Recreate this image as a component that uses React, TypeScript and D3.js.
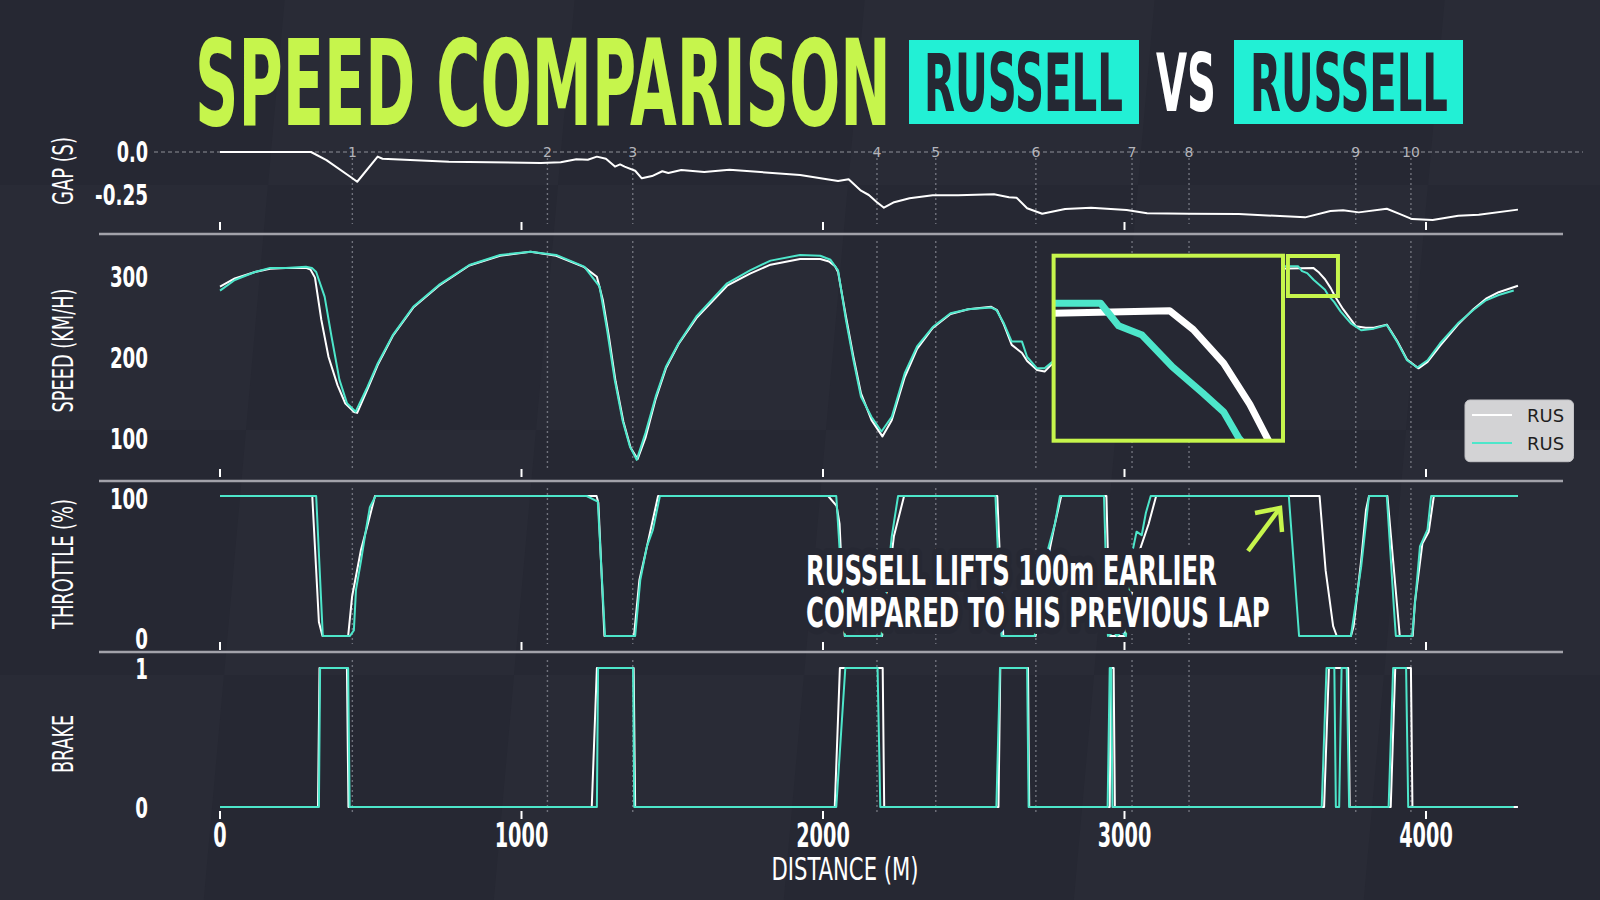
import React, { useLayoutEffect, useRef, useState } from 'react';
import * as d3 from 'd3';

// ---- data ----
const distTicks = [0, 1000, 2000, 3000, 4000];
const cornerLabels = ['1', '2', '3', '4', '5', '6', '7', '8', '9', '10'];
const cornerDist = [439, 1086, 1369, 2179, 2374, 2706, 3025, 3214, 3767, 3950];
const gapTicks = [0, -0.25];
const gapTickLabels = ['0.0', '-0.25'];
const speedTicks = [100, 200, 300];
const throttleTicks = [0, 100];
const brakeTicks = [0, 1];
const legendLabels = ['RUS', 'RUS'];

const gapTrace: [number, number][] = [
  [0, 0], [302, 0], [353, -0.047], [438, -0.151], [455, -0.173], [523, -0.027], [539, -0.039],
  [759, -0.056], [1064, -0.064], [1130, -0.06], [1182, -0.042], [1220, -0.045], [1250, -0.027],
  [1280, -0.039], [1310, -0.085], [1327, -0.072], [1342, -0.085], [1377, -0.109], [1399, -0.153],
  [1433, -0.14], [1467, -0.112], [1487, -0.122], [1530, -0.105], [1606, -0.116], [1690, -0.103],
  [1924, -0.134], [2050, -0.169], [2085, -0.159], [2126, -0.225], [2152, -0.25], [2177, -0.289],
  [2202, -0.324], [2236, -0.292], [2287, -0.269], [2364, -0.252], [2448, -0.252], [2567, -0.246],
  [2617, -0.263], [2642, -0.266], [2677, -0.327], [2727, -0.359], [2803, -0.331], [2889, -0.324],
  [3007, -0.337], [3075, -0.356], [3212, -0.359], [3379, -0.36], [3599, -0.38], [3683, -0.343],
  [3725, -0.339], [3777, -0.351], [3870, -0.33], [3912, -0.36], [3954, -0.39], [4022, -0.395],
  [4107, -0.37], [4175, -0.365], [4305, -0.335],
];

// previous lap (white)
const speedPrev: [number, number][] = [
  [0, 287], [49, 297], [116, 305], [166, 309], [218, 310], [285, 310], [300, 308], [315, 298],
  [336, 246], [360, 200], [390, 165], [415, 143], [445, 132], [455, 131], [489, 160], [523, 190],
  [573, 226], [641, 261], [726, 288], [827, 313], [929, 325], [1030, 330], [1115, 325], [1208, 311],
  [1250, 299], [1270, 270], [1290, 225], [1312, 170], [1338, 120], [1362, 88], [1385, 74], [1411, 100],
  [1445, 148], [1479, 186], [1521, 216], [1580, 248], [1682, 288], [1758, 303], [1826, 314], [1924, 321],
  [1991, 321], [2020, 318], [2040, 312], [2050, 305], [2076, 250], [2101, 200], [2126, 155], [2161, 122],
  [2197, 102], [2228, 122], [2271, 175], [2312, 210], [2364, 236], [2423, 253], [2482, 259], [2558, 262],
  [2577, 258], [2600, 240], [2626, 215], [2660, 205], [2677, 195], [2710, 184], [2735, 182], [2761, 192],
  [2800, 220], [2860, 250], [2920, 262], [2950, 240], [2975, 222], [3010, 225], [3050, 245], [3120, 270],
  [3200, 285], [3300, 298], [3400, 305], [3500, 309], [3626, 310], [3643, 305], [3665, 296], [3684, 285],
  [3698, 275], [3725, 259], [3767, 238], [3800, 236], [3827, 236], [3870, 240], [3904, 220], [3937, 197],
  [3975, 186], [4005, 194], [4047, 214], [4106, 240], [4157, 259], [4199, 272], [4241, 280], [4305, 288],
];

// current lap (turquoise)
const speedCurr: [number, number][] = [
  [0, 282], [49, 295], [116, 305], [166, 310], [218, 310], [285, 311.5], [305, 310], [319, 305],
  [347, 274.5], [370, 225], [396, 172], [421, 143], [450, 132.5], [489, 163], [523, 192], [573, 227],
  [641, 262], [726, 289], [827, 313.6], [929, 326], [1030, 330], [1115, 326], [1208, 311.5], [1259, 287],
  [1284, 233], [1309, 172], [1335, 122], [1360, 89], [1382, 73], [1411, 106], [1445, 151], [1479, 188],
  [1521, 217], [1580, 250], [1682, 291], [1758, 307], [1826, 319], [1924, 326], [1991, 325], [2025, 320],
  [2050, 307], [2076, 246], [2101, 196], [2126, 151], [2161, 126], [2194, 108], [2228, 126], [2271, 180],
  [2312, 213], [2364, 237], [2423, 254], [2482, 259], [2558, 261], [2575, 258], [2600, 241.6], [2626, 219],
  [2660, 219], [2677, 200], [2710, 186], [2735, 186], [2761, 194], [2800, 222], [2860, 252], [2920, 265],
  [2945, 245], [2970, 225], [3005, 226], [3050, 248], [3120, 273], [3200, 289], [3300, 301], [3400, 308],
  [3500, 312], [3576, 312], [3589, 306], [3606, 303.5], [3628, 295], [3650, 288], [3665, 283], [3676, 276],
  [3695, 268], [3717, 256], [3751, 241.6], [3785, 233], [3827, 235], [3870, 239.5], [3904, 219], [3937, 196],
  [3971, 187], [4005, 196], [4047, 217], [4106, 241.6], [4157, 258], [4199, 270], [4241, 276.5], [4291, 282],
];

const throttlePrev: [number, number][] = [
  [0, 100], [306, 100], [328, 10], [340, 0], [425, 0], [438, 28], [467, 61], [488, 78], [514, 100],
  [1249, 100], [1255, 95], [1275, 0], [1373, 0], [1391, 40], [1411, 59], [1453, 100], [2017, 100],
  [2045, 93], [2055, 80], [2072, 0], [2196, 0], [2235, 71], [2269, 100], [2578, 100], [2598, 0],
  [2705, 0], [2753, 63], [2766, 77], [2790, 100], [2940, 100], [2952, 0], [3000, 0], [3050, 61],
  [3080, 80], [3105, 100], [3647, 100], [3667, 47], [3692, 7], [3704, 0], [3751, 0], [3760, 7],
  [3785, 54], [3801, 90], [3811, 100], [3872, 100], [3913, 0], [3956, 0], [3963, 23.6], [3988, 66],
  [4009, 74.5], [4026, 100], [4305, 100],
];

const throttleCurr: [number, number][] = [
  [0, 100], [319, 100], [341, 0], [431, 0], [444, 4], [451, 33], [468, 54], [485, 77], [497, 92],
  [516, 100], [1216, 100], [1253, 96], [1277, 0], [1377, 0], [1394, 40], [1416, 64], [1436, 76],
  [1459, 100], [2044, 100], [2073, 0], [2194, 0], [2228, 71], [2249, 100], [2572, 100], [2592, 0],
  [2702, 0], [2745, 61], [2769, 80], [2786, 100], [2932, 100], [2945, 0], [2965, 3], [2975, 0],
  [2990, 3], [3005, 0], [3027, 61], [3040, 74.5], [3057, 72], [3071, 88], [3087, 100], [3545, 100],
  [3579, 0], [3751, 0], [3785, 49.5], [3811, 100], [3870, 100], [3894, 18.6], [3900, 0], [3954, 0],
  [3980, 64], [4005, 76], [4017, 100], [4305, 100],
];

const brakePrev: [number, number][] = [
  [0, 0], [325, 0], [330, 1], [421, 1], [426, 0], [1233, 0], [1250, 1], [1372, 1], [1377, 0],
  [2039, 0], [2056, 1], [2198, 1], [2203, 0], [2582, 0], [2588, 1], [2680, 1], [2684, 0], [2951, 0],
  [2955, 1], [2964, 1], [2968, 0], [3662, 0], [3678, 1], [3742, 1], [3747, 0], [3883, 0], [3898, 1],
  [3950, 1], [3955, 0], [4305, 0],
];

const brakeCurr: [number, number][] = [
  [0, 0], [328, 0], [332, 1], [425, 1], [430, 0], [1250, 0], [1254, 1], [1370, 1], [1374, 0],
  [2044, 0], [2074, 1], [2181, 1], [2190, 0], [2575, 0], [2587, 1], [2677, 1], [2682, 0], [2944, 0],
  [2951, 1], [2956, 1], [2960, 0], [3654, 0], [3670, 1], [3696, 1], [3701, 0], [3712, 0], [3720, 1],
  [3737, 1], [3745, 0], [3876, 0], [3891, 1], [3934, 1], [3941, 0], [4291, 0],
];

// ---- style ----
const BG = '#262833';
const LIME = '#c6f54c';
const TEAL = '#4de6ca';
const BOX = '#22f0d5';
const COND = "'Liberation Sans Narrow', 'DejaVu Sans Condensed', 'DejaVu Sans', sans-serif";

const x = d3.scaleLinear().domain([0, 4000]).range([220, 1426]);
const yGap = d3.scaleLinear().domain([0, -0.25]).range([152, 195]);
const ySpeed = d3.scaleLinear().domain([100, 300]).range([438, 276]);
const yThr = d3.scaleLinear().domain([0, 100]).range([636, 496]);
const yBrk = d3.scaleLinear().domain([0, 1]).range([807, 668]);

// zoomed inset
const zoomX = [3542, 3708];
const zoomY = [275.3, 324.7];
const xi = d3.scaleLinear().domain(zoomX).range([1053.6, 1283]);
const yi = d3.scaleLinear().domain(zoomY).range([440.7, 255.7]);

// width of a bold condensed label, per char
const labelW = (s: string, digit: number) =>
  s.split('').reduce((a, c) => a + (c === '.' ? digit * 0.47 : c === '-' ? digit * 0.7 : digit), 0);

function path(data: [number, number][], xs: any, ys: any) {
  return d3.line<[number, number]>().x(d => xs(d[0])).y(d => ys(d[1]))(data) || '';
}

// text squeezed horizontally to a given width (condensed look)
function FitText({ x, y, width, rotate, anchor, style, children, ...rest }: any) {
  const ref = useRef<SVGTextElement>(null);
  const [s, setS] = useState(1);
  useLayoutEffect(() => {
    if (!ref.current) return;
    const n = ref.current.getComputedTextLength();
    if (n > 0) setS(width / n);
  }, [width, children]);
  return (
    <text ref={ref} transform={`translate(${x},${y})${rotate ? ` rotate(${rotate})` : ''} scale(${s},1)`}
      textAnchor={anchor} style={style} {...rest}>{children}</text>
  );
}

const panels = [
  { top: 158, bottom: 230 },
  { top: 241, bottom: 477 },
  { top: 488, bottom: 650 },
  { top: 660, bottom: 819 },
];
const separators = [234, 481, 652];

function Background() {
  const cells: JSX.Element[] = [];
  const cw = 290, ch = 245, slant = 22;
  for (let r = 0; r < 5; r++) {
    for (let c = -1; c < 7; c++) {
      if ((r + c) % 2 === 0) continue;
      const x0 = c * cw + r * -slant;
      const y0 = r * ch - 60;
      cells.push(
        <polygon key={`${r}-${c}`}
          points={`${x0},${y0} ${x0 + cw},${y0} ${x0 + cw - slant},${y0 + ch} ${x0 - slant},${y0 + ch}`}
          fill="#2b2d39" opacity={0.55} />
      );
    }
  }
  return <g>
    <rect width={1600} height={900} fill={BG} />
    {cells}
  </g>;
}

export default function App() {
  const yTickFont = { fontFamily: COND, fontWeight: 700, fontSize: 29, fill: '#fff' } as const;
  const titleFont = { fontFamily: COND, fontWeight: 700, fontSize: 80 } as const;
  return (
    <svg width={1600} height={900} style={{ position: 'absolute', left: 0, top: 0 }}>
      <defs>
        <clipPath id="insetClip">
          <rect x={1053.6} y={255.7} width={229.4} height={185} />
        </clipPath>
      </defs>
      <Background />

      {/* title */}
      <FitText x={195} y={125} width={696}
        style={{ fontFamily: COND, fontWeight: 700, fontSize: 119, fill: LIME }}>SPEED COMPARISON</FitText>
      <rect x={909} y={40} width={230} height={84} fill={BOX} />
      <FitText x={924} y={111} width={199} style={{ ...titleFont, fill: '#252833' }}>RUSSELL</FitText>
      <FitText x={1156} y={111} width={60} style={{ ...titleFont, fill: '#fff' }}>VS</FitText>
      <rect x={1234} y={40} width={229} height={84} fill={BOX} />
      <FitText x={1250} y={111} width={198} style={{ ...titleFont, fill: '#252833' }}>RUSSELL</FitText>

      {/* separators */}
      {separators.map(s => <line key={s} x1={99} x2={1563} y1={s} y2={s} stroke="#a2a2aa" strokeWidth={2.5} />)}

      {/* zero line of gap */}
      <line x1={154} x2={1583} y1={yGap(0)} y2={yGap(0)} stroke="#8e8f97" strokeWidth={1.2} strokeDasharray="4 3" />

      {/* corner lines */}
      {cornerDist.map((d, i) => (
        <g key={i}>
          {panels.map((p, j) => (
            <line key={j} x1={x(d)} x2={x(d)} y1={p.top} y2={p.bottom - 6} stroke="#70727c"
              strokeWidth={1.4} strokeDasharray="2 3" />
          ))}
          <text x={x(d)} y={157} textAnchor="middle"
            style={{ fontFamily: 'DejaVu Sans, sans-serif', fontSize: 14, fill: '#b4b5bb' }}>{cornerLabels[i]}</text>
        </g>
      ))}

      {/* x ticks in each panel */}
      {panels.map((p, j) => distTicks.map(t => (
        <line key={`${j}-${t}`} x1={x(t)} x2={x(t)} y1={p.bottom - 8} y2={p.bottom} stroke="#fff" strokeWidth={2} />
      )))}

      {/* y tick labels */}
      {gapTicks.map((t, i) => (
        <FitText key={t} x={148} y={yGap(t) + 10} anchor="end" width={labelW(gapTickLabels[i], 12.7)}
          style={yTickFont}>{gapTickLabels[i]}</FitText>
      ))}
      {speedTicks.map(t => (
        <FitText key={t} x={148} y={ySpeed(t) + 10.5} anchor="end" width={labelW(String(t), 12.7)}
          style={yTickFont}>{t}</FitText>
      ))}
      {throttleTicks.map(t => (
        <FitText key={t} x={148} y={yThr(t) + 13} anchor="end" width={labelW(String(t), 12.7)}
          style={yTickFont}>{t}</FitText>
      ))}
      {brakeTicks.map(t => (
        <FitText key={t} x={148} y={yBrk(t) + 11} anchor="end" width={labelW(String(t), 12.7)}
          style={yTickFont}>{t}</FitText>
      ))}

      {/* y axis titles */}
      {[
        { label: 'GAP (S)', cy: 171, len: 68 },
        { label: 'SPEED (KM/H)', cy: 350.5, len: 124 },
        { label: 'THROTTLE (%)', cy: 564, len: 130 },
        { label: 'BRAKE', cy: 744, len: 58 },
      ].map(a => (
        <FitText key={a.label} x={72.5} y={a.cy} rotate={-90} anchor="middle" width={a.len}
          style={{ fontFamily: COND, fontSize: 29, fill: '#fff' }}>{a.label}</FitText>
      ))}

      {/* x tick labels */}
      {distTicks.map(t => (
        <FitText key={t} x={x(t)} y={846.7} anchor="middle" width={labelW(String(t), 13.4)}
          style={{ fontFamily: COND, fontWeight: 700, fontSize: 33, fill: '#fff' }}>{t}</FitText>
      ))}
      <FitText x={845} y={879.5} anchor="middle" width={147}
        style={{ fontFamily: COND, fontSize: 32, fill: '#fff' }}>DISTANCE (M)</FitText>

      {/* traces */}
      <path d={path(gapTrace, x, yGap)} fill="none" stroke="#fff" strokeWidth={2} strokeLinejoin="round" />
      <path d={path(speedPrev, x, ySpeed)} fill="none" stroke="#fff" strokeWidth={2} strokeLinejoin="round" />
      <path d={path(speedCurr, x, ySpeed)} fill="none" stroke={TEAL} strokeWidth={2} strokeLinejoin="round" />
      <path d={path(throttlePrev, x, yThr)} fill="none" stroke="#fff" strokeWidth={2} strokeLinejoin="round" />
      <path d={path(throttleCurr, x, yThr)} fill="none" stroke={TEAL} strokeWidth={2} strokeLinejoin="round" />
      <path d={path(brakePrev, x, yBrk)} fill="none" stroke="#fff" strokeWidth={2} strokeLinejoin="round" />
      <path d={path(brakeCurr, x, yBrk)} fill="none" stroke={TEAL} strokeWidth={2} strokeLinejoin="round" />

      {/* zoom indicator */}
      <rect x={x(zoomX[0])} y={ySpeed(zoomY[1])} width={x(zoomX[1]) - x(zoomX[0])}
        height={ySpeed(zoomY[0]) - ySpeed(zoomY[1])} fill="none" stroke={LIME} strokeWidth={4} />

      {/* inset */}
      <rect x={1053.6} y={255.7} width={229.4} height={185} fill={BG} />
      <g clipPath="url(#insetClip)">
        <path d={path(speedPrev, xi, yi)} fill="none" stroke="#fff" strokeWidth={7} strokeLinejoin="round" />
        <path d={path(speedCurr, xi, yi)} fill="none" stroke={TEAL} strokeWidth={7} strokeLinejoin="round" />
      </g>
      <rect x={1053.6} y={255.7} width={229.4} height={185} fill="none" stroke={LIME} strokeWidth={4} />

      {/* legend */}
      <rect x={1465} y={400} width={108.5} height={61.7} rx={5} fill="#d3d3d5" stroke="#c2c2c6" />
      {legendLabels.map((l, i) => (
        <g key={i}>
          <line x1={1472} x2={1512} y1={415 + i * 28} y2={415 + i * 28} stroke={i === 0 ? '#fff' : TEAL} strokeWidth={2} />
          <text x={1527} y={421.7 + i * 28}
            style={{ fontFamily: 'DejaVu Sans, sans-serif', fontSize: 18, fill: '#1e1e1e' }}>{l}</text>
        </g>
      ))}

      {/* annotation */}
      <FitText x={806} y={585} width={411} stroke={BG} strokeWidth={14} strokeLinejoin="round" paintOrder="stroke"
        style={{ fontFamily: COND, fontWeight: 700, fontSize: 41, fill: '#fff' }}>RUSSELL LIFTS 100m EARLIER</FitText>
      <FitText x={806} y={627} width={464} stroke={BG} strokeWidth={14} strokeLinejoin="round" paintOrder="stroke"
        style={{ fontFamily: COND, fontWeight: 700, fontSize: 41, fill: '#fff' }}>COMPARED TO HIS PREVIOUS LAP</FitText>
      <g stroke={LIME} strokeWidth={4.5} strokeLinecap="butt" fill="none">
        <line x1={1248} y1={551} x2={1280} y2={508} />
        <polyline points="1255,513 1280,508 1282,532" />
      </g>
    </svg>
  );
}
